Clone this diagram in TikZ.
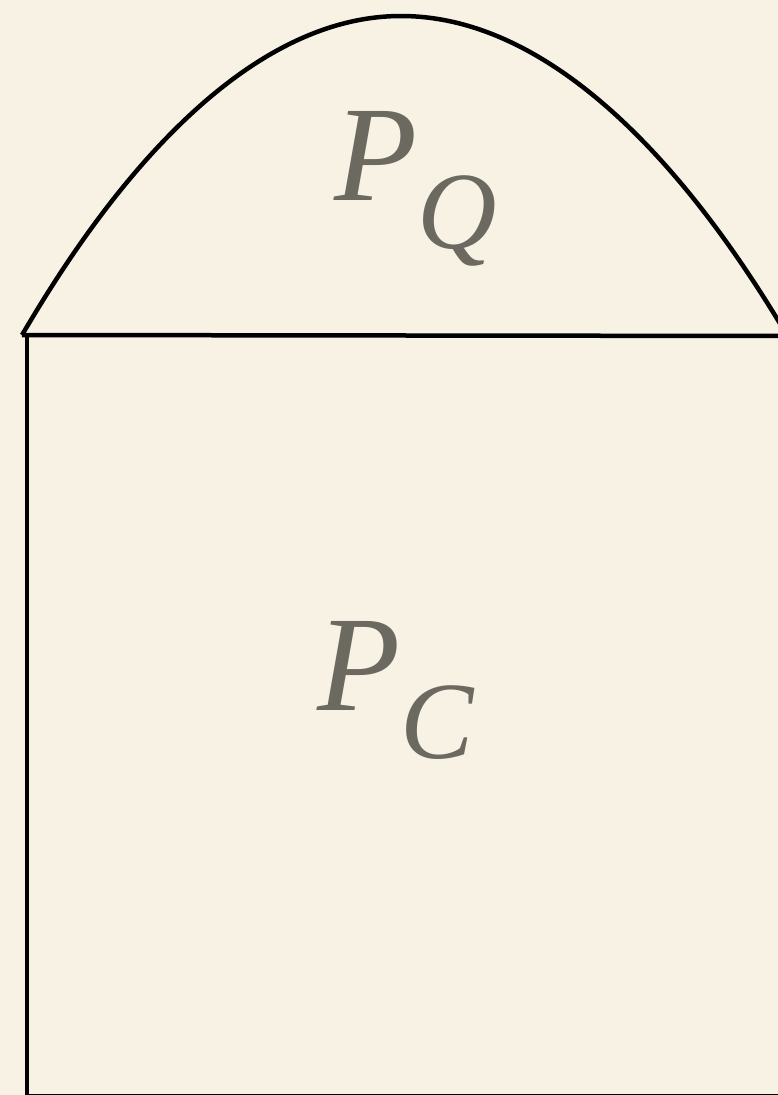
\documentclass[tikz,border=0pt]{standalone}
\usepackage{fontspec}
\setmainfont{Liberation Serif}[ItalicFont={Liberation Serif Italic}]
\definecolor{paper}{RGB}{248,242,228}
\definecolor{inkgray}{RGB}{108,105,96}
\newcommand{\regionlabel}[2]{\itshape #1\raisebox{-48bp}{\fontsize{110bp}{110bp}\selectfont #2}}
\begin{document}
\begin{tikzpicture}[x=1bp, y=-1bp, line width=4.5bp,
    outline/.style={draw=black, line join=round},
    label/.style={inner sep=0pt, anchor=base west, text=inkgray, font=\fontsize{136bp}{136bp}\selectfont}]
    % Фон и размеры листа
    \fill[paper] (0,0) rectangle (778,1095);
    \useasboundingbox (0,0) rectangle (778,1095);

    % Угловые точки
    \coordinate (L) at (22,335);
    \coordinate (R) at (787,335);
    \coordinate (top) at (401,16);
    \coordinate (BL) at (27,1096.5);
    \coordinate (BR) at (800,1096.5);
    \coordinate (TL) at (27,336);
    \coordinate (TR) at (800,336);

    % Купол
    \draw[outline] (L) parabola bend (top) (R);

    % Прямоугольник
    \draw[outline] (L) -- (TR);
    \draw[outline] (TL) -- (BL) -- (BR);

    % Подписи
    \node[label] (PQ) at (332,200) {\regionlabel{P}{Q}};
    \node[label] (PC) at (315,710) {\regionlabel{P}{C}};
\end{tikzpicture}
\end{document}
